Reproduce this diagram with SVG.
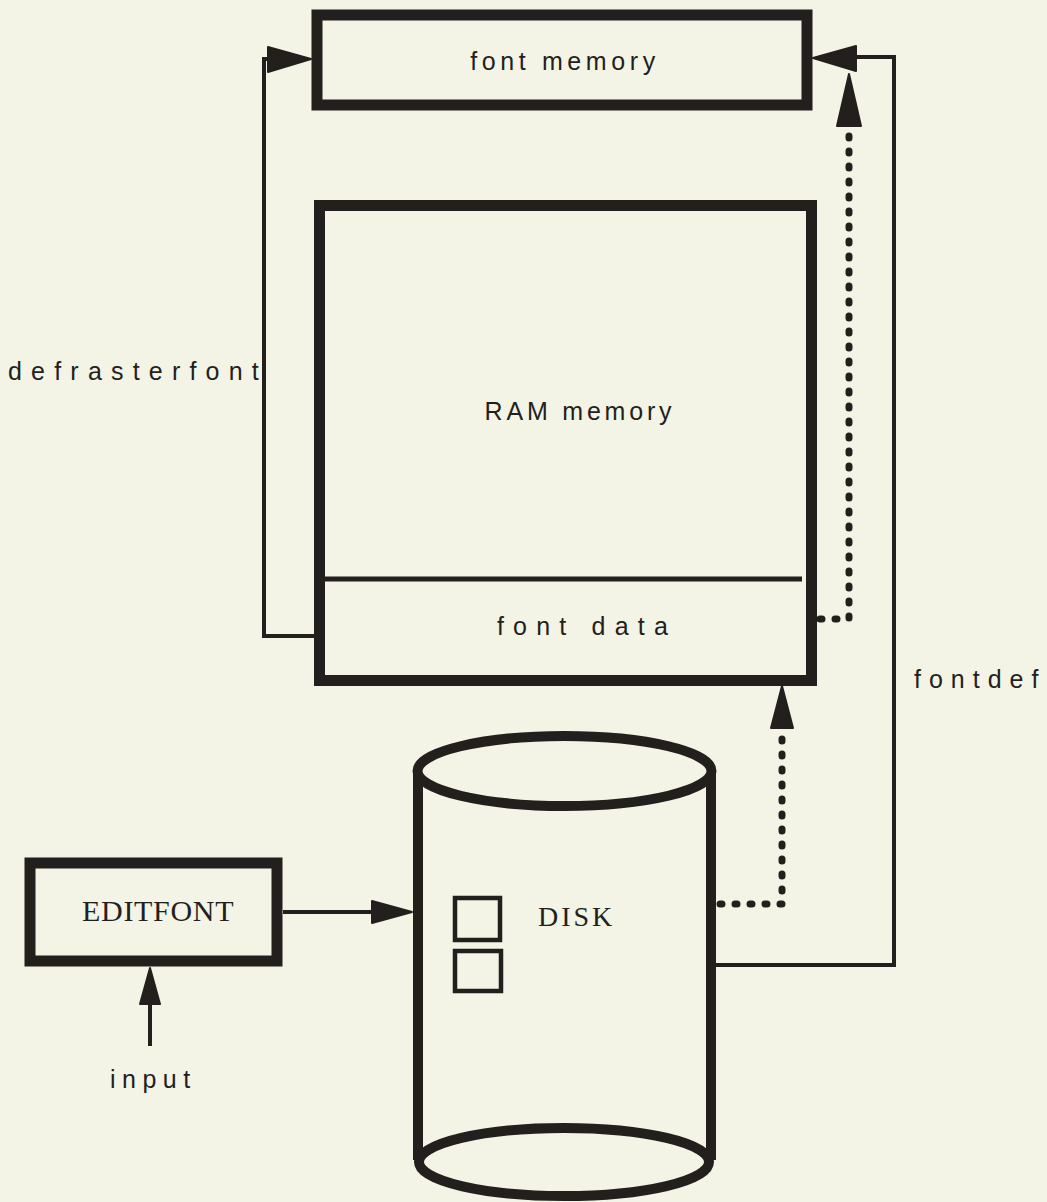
<svg xmlns="http://www.w3.org/2000/svg" width="1047" height="1202" viewBox="0 0 1047 1202">
<defs>
<style>
.bg{fill:#f3f3e6}
.box{fill:none;stroke:#231f1c;stroke-width:11}
.line{fill:none;stroke:#231f1c;stroke-width:4}
.dot{fill:none;stroke:#231f1c;stroke-width:7;stroke-linecap:round;stroke-linejoin:round;stroke-dasharray:2 13}
.head{fill:#231f1c;stroke:#231f1c;stroke-width:2;stroke-linejoin:round}
.lbl{font-family:"Liberation Sans",Arial,sans-serif;font-size:25px;fill:#231f1c}
.ser{font-family:"Liberation Serif","Times New Roman",serif;fill:#231f1c}
</style>
</defs>
<rect class="bg" x="0" y="0" width="1047" height="1202"/>

<g id="connectors">
  <polyline class="line" points="318,636 264,636 264,59 270,59"/>
  <polygon class="head" points="268,47 311,59 268,72"/>
  <polyline class="line" points="716,965 894,965 894,57 855,57"/>
  <polygon class="head" points="856,46 813,58 856,71"/>
  <polyline class="dot" points="820,619 849,619 849,133"/>
  <polygon class="head" points="837,126 849,74 861,126"/>
  <polyline class="dot" points="720,904 782,904 782,735"/>
  <polygon class="head" points="771,728 782,686 793,728"/>
  <line class="line" x1="283" y1="912" x2="375" y2="912"/>
  <polygon class="head" points="372,901 412,912 372,923"/>
  <line class="line" x1="150" y1="1046" x2="150" y2="1000"/>
  <polygon class="head" points="140,1004 150,968 160,1004"/>
</g>

<g id="font-memory">
  <rect class="box" x="317" y="15" width="490" height="90"/>
  <text class="lbl" x="565" y="70" text-anchor="middle" letter-spacing="4.6">font memory</text>
</g>

<g id="ram-memory">
  <rect class="box" x="319.5" y="205.5" width="492" height="475"/>
  <line x1="325" y1="579" x2="802" y2="579" stroke="#231f1c" stroke-width="5"/>
  <text class="lbl" x="580" y="420" text-anchor="middle" letter-spacing="3.8">RAM memory</text>
  <text class="lbl" x="587" y="635" text-anchor="middle" letter-spacing="9.2">font data</text>
</g>

<g id="editfont">
  <rect class="box" x="30" y="863" width="247" height="98" stroke-width="12"/>
  <text class="ser" x="82" y="921" font-size="30" letter-spacing="0.7">EDITFONT</text>
</g>

<g id="disk">
  <path d="M418,771 L418,1160 M711,771 L711,1160" fill="none" stroke="#231f1c" stroke-width="10"/>
  <ellipse cx="564.5" cy="771" rx="147" ry="35" fill="#f3f3e6" stroke="#231f1c" stroke-width="10"/>
  <ellipse cx="564" cy="1162" rx="145" ry="34" fill="none" stroke="#231f1c" stroke-width="10"/>
  <rect x="455" y="898" width="45" height="42" fill="none" stroke="#231f1c" stroke-width="4.5"/>
  <rect x="455" y="951" width="46" height="40" fill="none" stroke="#231f1c" stroke-width="4.5"/>
  <text class="ser" x="538" y="926" font-size="28" letter-spacing="3">DISK</text>
</g>

<g id="labels">
  <text class="lbl" x="8" y="380" letter-spacing="9.2">defrasterfont</text>
  <text class="lbl" x="914" y="688" letter-spacing="8">fontdef</text>
  <text class="lbl" x="110" y="1088" letter-spacing="6.5">input</text>
</g>
</svg>
